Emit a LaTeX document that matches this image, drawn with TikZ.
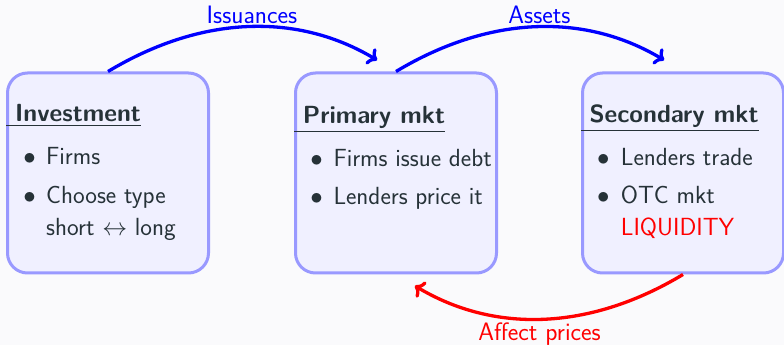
\documentclass[tikz,border=0pt]{standalone}
\usetikzlibrary{arrows.meta}
\definecolor{txt}{RGB}{38,50,56}
\definecolor{bg}{RGB}{250,250,252}
\definecolor{bfill}{RGB}{240,240,255}
\definecolor{bline}{RGB}{153,153,255}
\begin{document}
\begin{tikzpicture}[x=1pt,y=1pt,
  font=\sffamily\fontsize{24.8}{29}\selectfont,
  box/.style={draw=bline, fill=bfill, line width=3pt, rounded corners=20pt,
    minimum width=201pt, minimum height=200pt, inner sep=0pt},
  ttl/.style={anchor=base west, font=\sffamily\bfseries\fontsize{24.8}{29}\selectfont, text=txt, inner sep=0pt},
  itm/.style={anchor=base west, text=txt, inner sep=0pt},
  bul/.style={anchor=base, text=txt, inner sep=0pt},
  rulel/.style={draw=txt, line width=1.3pt},
  lbl/.style={midway, anchor=base, inner sep=0pt, font=\sffamily\fontsize{25.2}{29}\selectfont},
  flow/.style={line width=3.3pt, -{To}, shorten >=22pt}]
\fill[bg] (0,0) rectangle (784,345);
\useasboundingbox (0,0) rectangle (784,345);

\node[box] (inv) at (108,172) {};
\node[box] (prim) at (396,172) {};
\node[box] (sec) at (683,172) {};

% Investment
\node[ttl] (t-inv) at (15,223.3) {Investment};
\draw[rulel] (inv.west |- 0,219.7) -- (t-inv.east |- 0,219.7);
\node[bul] (b11) at (29.7,180) {$\bullet$};
\node[itm] (i11) at (46,180) {Firms};
\node[bul] (b12) at (29.7,141.7) {$\bullet$};
\node[itm] (i12) at (46,141.7) {Choose type};
\node[itm] (i13) at (46,109.3) {short $\leftrightarrow$ long};

% Primary
\node[ttl] (t-prim) at (302.7,221.7) {Primary mkt};
\draw[rulel] (prim.west |- 0,213.7) -- (t-prim.east |- 0,213.7);
\node[bul] (b21) at (316.7,178.3) {$\bullet$};
\node[itm] (i21) at (333.3,178.3) {Firms issue debt};
\node[bul] (b22) at (316.7,140) {$\bullet$};
\node[itm] (i22) at (333.3,140) {Lenders price it};

% Secondary
\node[ttl] (t-sec) at (589.3,222.3) {Secondary mkt};
\draw[rulel] (sec.west |- 0,214.3) -- (t-sec.east |- 0,214.3);
\node[bul] (b31) at (603.3,179) {$\bullet$};
\node[itm] (i31) at (620.7,179) {Lenders trade};
\node[bul] (b32) at (603.3,141.7) {$\bullet$};
\node[itm] (i32) at (620.7,141.7) {OTC mkt};
\node[itm, text=red] (i33) at (620.7,109) {LIQUIDITY};

% connectors
\draw[flow, blue] (inv.north) to[bend left=31]
  node[lbl, yshift=4.7pt, text=blue] {Issuances} (prim.north);
\draw[flow, blue] (prim.north) to[bend left=31]
  node[lbl, yshift=4.7pt, text=blue] {Assets} (sec.north);
\draw[flow, red] (sec.south) to[bend left=31]
  node[lbl, yshift=-22.3pt, text=red] {Affect prices} (prim.south);
\end{tikzpicture}
\end{document}
